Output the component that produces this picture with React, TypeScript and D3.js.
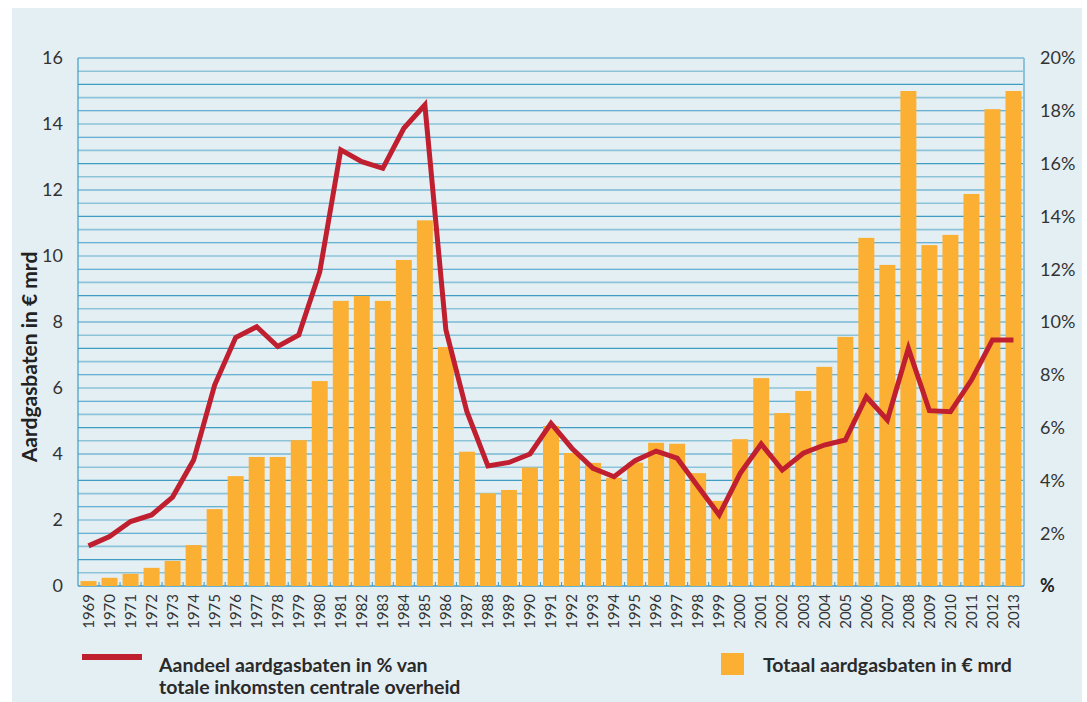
import * as d3 from "d3";

const years = d3.range(1969, 2014).map(String);

// totaal aardgasbaten in € mrd
const baten = [
  0.15, 0.25, 0.37, 0.55, 0.76, 1.24, 2.33, 3.33, 3.91, 3.91,
  4.42, 6.21, 8.64, 8.79, 8.64, 9.88, 11.08, 7.24, 4.07, 2.81,
  2.91, 3.59, 4.85, 4.03, 3.73, 3.28, 3.74, 4.34, 4.31, 3.42,
  2.58, 4.45, 6.3, 5.24, 5.91, 6.64, 7.55, 10.55, 9.73, 15.0,
  10.33, 10.64, 11.88, 14.45, 15.0,
];

// aandeel in % van totale inkomsten centrale overheid
const aandeel = [
  1.52, 1.87, 2.44, 2.69, 3.37, 4.77, 7.61, 9.41, 9.82, 9.07,
  9.51, 11.9, 16.52, 16.07, 15.82, 17.34, 18.22, 9.7, 6.6, 4.55,
  4.68, 5.0, 6.16, 5.21, 4.46, 4.14, 4.75, 5.11, 4.84, 3.76,
  2.69, 4.27, 5.38, 4.39, 5.03, 5.34, 5.53, 7.17, 6.29, 9.0,
  6.64, 6.6, 7.8, 9.32, 9.32,
];

const leftTicks = [0, 2, 4, 6, 8, 10, 12, 14, 16];
const rightTicks = [2, 4, 6, 8, 10, 12, 14, 16, 18, 20];

const W = 1087;
const H = 702;
const left = 78;
const right = 1024;
const top = 58;
const bottom = 586;

const font = "Lato, 'Noto Sans', sans-serif";
const grid = d3.range(1, 41).map((i) => i * 0.4);

export default function App() {
  const x = d3.scaleBand<string>().domain(years).range([left, right]).paddingInner(0.24).paddingOuter(0.12);
  const y = d3.scaleLinear().domain([0, 16]).range([bottom, top]);
  const y2 = d3.scaleLinear().domain([0, 20]).range([bottom, top]);
  const step = x.step();

  const line = d3
    .line<number>()
    .x((_, i) => (x(years[i]) as number) + x.bandwidth() / 2)
    .y((d) => y2(d));
  const path = line(aandeel);

  return (
    <div style={{ position: "absolute", left: 0, top: 0 }}>
      <svg width={W} height={H} viewBox={`0 0 ${W} ${H}`} style={{ display: "block", fontFamily: font }}>
        <rect x={0} y={0} width={W} height={H} fill="#fff" />
        <rect x={12} y={8} width={1070} height={H - 8} fill="#e4eff4" />

        {grid.map((g, i) => (
          <line
            key={g}
            x1={left}
            x2={right}
            y1={y(g)}
            y2={y(g)}
            stroke={i % 2 === 0 ? "#8dc3d8" : "#3f9dc4"}
            strokeWidth={i % 2 === 0 ? 1.6 : 1.1}
          />
        ))}

        {/* axis frame */}
        <line x1={left} x2={left} y1={top} y2={bottom} stroke="#3f9dc4" strokeWidth={1.2} />
        <line x1={right} x2={right} y1={top} y2={bottom} stroke="#8dc3d8" strokeWidth={2} />
        <line x1={left} x2={right} y1={bottom} y2={bottom} stroke="#3f9dc4" strokeWidth={1.4} />

        {years.map((yr, i) => (
          <rect
            key={yr}
            x={x(yr)}
            y={y(baten[i])}
            width={x.bandwidth()}
            height={bottom - y(baten[i])}
            fill="#fbb034"
          />
        ))}

        {years.slice(1).map((yr) => {
          const bx = (x(yr) as number) - (step - x.bandwidth()) / 2;
          return <line key={yr} x1={bx} x2={bx} y1={bottom} y2={bottom - 4} stroke="#3f9dc4" strokeWidth={1} />;
        })}

        <path d={path ?? ""} fill="none" stroke="#c01f2f" strokeWidth={5} strokeLinejoin="miter" />

        {leftTicks.map((t) => (
          <text key={t} x={63} y={y(t)} dy="0.35em" textAnchor="end" fontSize={18} fill="#333">
            {t}
          </text>
        ))}
        {rightTicks.map((t) => (
          <text key={t} x={1040} y={y2(t)} dy="0.35em" fontSize={18} fill="#333">
            {t}%
          </text>
        ))}
        <text x={1040} y={y2(0)} dy="0.35em" fontSize={18} fontWeight={700} fill="#222">
          %
        </text>

        {years.map((yr) => (
          <text
            key={yr}
            transform={`translate(${(x(yr) as number) + x.bandwidth() / 2},${bottom + 8}) rotate(-90)`}
            textAnchor="end"
            dy="0.35em"
            fontSize={15}
            fill="#333"
          >
            {yr}
          </text>
        ))}

        <text
          transform={`translate(30,${357}) rotate(-90)`}
          textAnchor="middle"
          dy="0.35em"
          fontSize={21}
          fontWeight={700}
          fill="#222"
        >
          Aardgasbaten in € mrd
        </text>

        {/* legend */}
        <line x1={82} x2={142} y1={657} y2={657} stroke="#c01f2f" strokeWidth={6} />
        <text x={159} y={672} fontSize={19.5} fontWeight={700} fill="#2a2a2a">
          Aandeel aardgasbaten in % van
        </text>
        <text x={159} y={694} fontSize={19.5} fontWeight={700} fill="#2a2a2a">
          totale inkomsten centrale overheid
        </text>
        <rect x={721} y={653} width={23} height={22} fill="#fbb034" />
        <text x={763} y={672} fontSize={19.5} fontWeight={700} fill="#2a2a2a">
          Totaal aardgasbaten in € mrd
        </text>
      </svg>
    </div>
  );
}
